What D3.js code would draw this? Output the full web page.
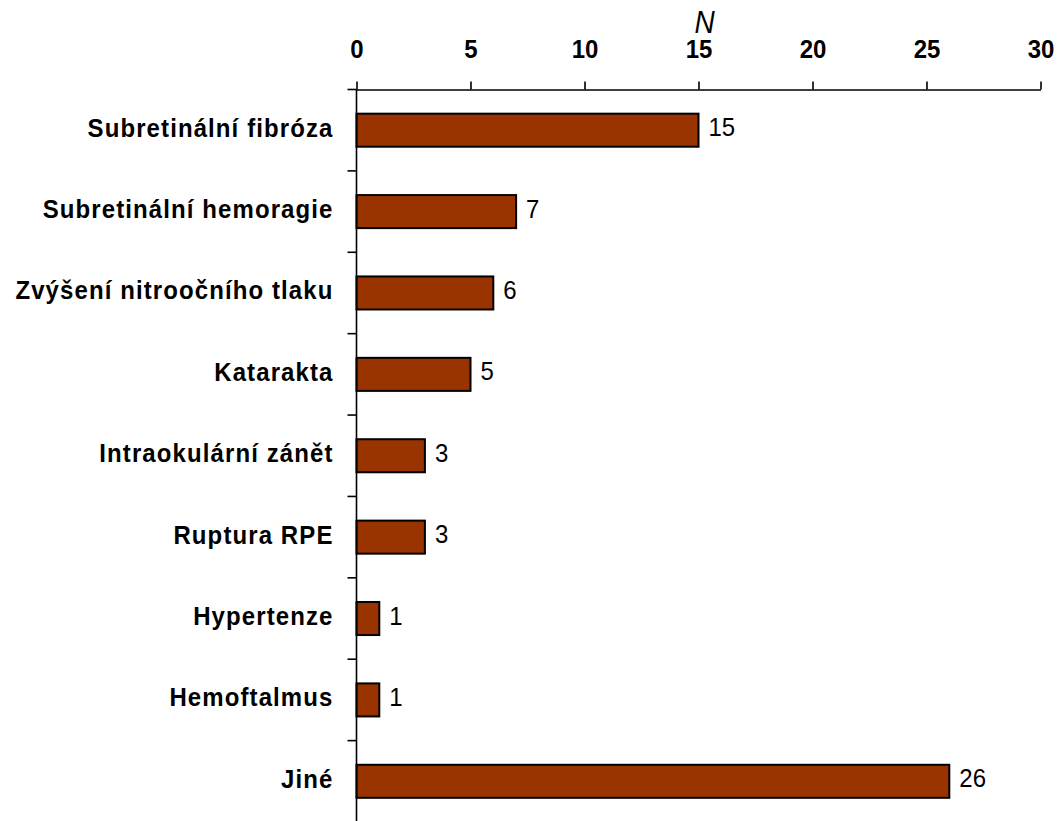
<!DOCTYPE html>
<html>
<head>
<meta charset="utf-8">
<script src="https://cdn.jsdelivr.net/npm/d3@7"></script>
<style>
  html, body { margin: 0; padding: 0; background: #fff; }
  svg { display: block; font-family: "Liberation Sans", Arial, Helvetica, sans-serif; }
</style>
</head>
<body>
<svg id="chart" width="1064" height="821"></svg>
<script>
// Complications, number of eyes (N)
const categories = [
  "Subretinální fibróza",
  "Subretinální hemoragie",
  "Zvýšení nitroočního tlaku",
  "Katarakta",
  "Intraokulární zánět",
  "Ruptura RPE",
  "Hypertenze",
  "Hemoftalmus",
  "Jiné"
];
const counts = [15, 7, 6, 5, 3, 3, 1, 1, 26];
const xTicks = [0, 5, 10, 15, 20, 25, 30];
const axisTitle = "N";

const svg = d3.select("#chart");
const plotLeft = 356.5, plotRight = 1040.5, plotTop = 89.5, plotBottom = 822;
const textStretch = 1.1; // glyphs are slightly taller than wide

const x = d3.scaleLinear().domain([0, 30]).range([plotLeft, plotRight]);
const y = d3.scaleBand()
  .domain(categories)
  .range([plotTop, plotBottom])
  .paddingInner(0.594)
  .paddingOuter(0.297);

// Bars
svg.append("g")
  .selectAll("rect")
  .data(categories)
  .join("rect")
  .attr("x", x(0))
  .attr("y", d => y(d))
  .attr("width", (d, i) => x(counts[i]) - x(0))
  .attr("height", y.bandwidth())
  .attr("fill", "#993300")
  .attr("stroke", "#000")
  .attr("stroke-width", 2);

// Top value axis
const xAxis = svg.append("g")
  .attr("transform", `translate(0,${plotTop})`)
  .call(d3.axisTop(x).tickValues(xTicks).tickSize(8).tickSizeOuter(0));
xAxis.select(".domain").attr("stroke", "#000").attr("stroke-width", 1.6);
xAxis.selectAll(".tick line").attr("stroke", "#000").attr("stroke-width", 1.6);
xAxis.selectAll(".tick text")
  .attr("fill", "#000")
  .attr("y", 0)
  .attr("dy", null)
  .attr("transform", `translate(0,${58 - plotTop}) scale(1,${textStretch})`)
  .style("font-size", "24px")
  .style("font-weight", "bold")
  .style("font-family", "'Liberation Sans', Arial, sans-serif");

// Axis title
svg.append("text")
  .attr("transform", `translate(${x(15) + 6},32.5) scale(1,${textStretch})`)
  .attr("text-anchor", "middle")
  .style("font-size", "28px")
  .style("font-style", "italic")
  .text(axisTitle);

// Category axis: vertical line with ticks at band boundaries
const step = y.step();
const boundaries = categories.map(c => y(c) - step * y.paddingInner() / 2).concat([plotBottom]);
const yAxis = svg.append("g");
yAxis.append("line")
  .attr("x1", plotLeft).attr("x2", plotLeft)
  .attr("y1", plotTop).attr("y2", plotBottom)
  .attr("stroke", "#000").attr("stroke-width", 1.6);
yAxis.selectAll("line.tick")
  .data(boundaries)
  .join("line")
  .attr("class", "tick")
  .attr("x1", plotLeft - 9).attr("x2", plotLeft)
  .attr("y1", d => d).attr("y2", d => d)
  .attr("stroke", "#000").attr("stroke-width", 1.6);

// Category labels
svg.append("g")
  .selectAll("text")
  .data(categories)
  .join("text")
  .attr("transform", d => `translate(${plotLeft - 23},${y(d) + y.bandwidth() / 2 + 6.5}) scale(1,${textStretch})`)
  .attr("text-anchor", "end")
  .style("font-size", "24px")
  .style("font-weight", "bold")
  .style("letter-spacing", "1.1px")
  .text(d => d);

// Value labels
svg.append("g")
  .selectAll("text")
  .data(categories)
  .join("text")
  .attr("transform", (d, i) => `translate(${x(counts[i]) + 10},${y(d) + y.bandwidth() / 2 + 6}) scale(1,${textStretch})`)
  .style("font-size", "24px")
  .text((d, i) => counts[i]);
</script>
</body>
</html>
